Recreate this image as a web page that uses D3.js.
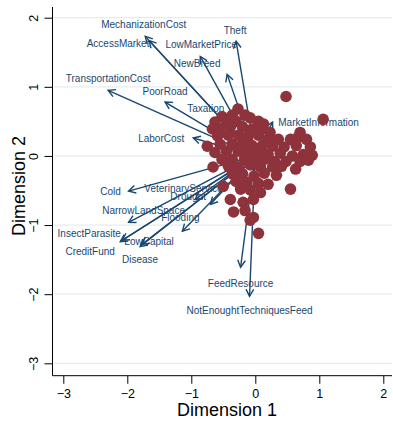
<!DOCTYPE html>
<html>
<head>
<meta charset="utf-8">
<script src="https://cdn.jsdelivr.net/npm/d3@7"></script>
<style>
  html, body { margin: 0; padding: 0; background: #fff; }
  svg { display: block; font-family: "Liberation Sans", Arial, sans-serif; }
</style>
</head>
<body>
<svg id="chart" width="393" height="423"></svg>
<script>
// Variable (column) coordinates on the two dimensions
const varNames = [
  "MechanizationCost", "AccessMarket", "LowMarketPrice", "Theft", "NewBreed",
  "TransportationCost", "PoorRoad", "Taxation", "LaborCost", "MarketInformation",
  "Cold", "VeterinaryService", "Drought", "NarrowLandSpace", "Flooding",
  "InsectParasite", "CreditFund", "LowCapital", "Disease", "FeedResource",
  "NotEnoughtTechniquesFeed"
];
const varDim1 = [-1.72, -1.66, -0.86, -0.30, -0.44, -2.30, -1.41, -0.50, -0.97, 0.27,
                 -1.98, -0.70, -0.94, -1.98, -1.14, -2.11, -2.08, -1.80, -1.77, -0.23, -0.09];
const varDim2 = [1.73, 1.67, 1.44, 1.66, 1.18, 0.95, 0.78, 0.52, 0.26, 0.49,
                 -0.51, -0.70, -0.63, -0.96, -1.09, -1.24, -1.22, -1.31, -1.28, -1.61, -2.03];

// Observation (row) scores on the two dimensions
const obsDim1 = [
  0.48, -0.27, -0.52, -0.36, -0.16, -0.08, 1.06, -0.63, -0.45, -0.30,
  0.05, 0.13, -0.67, -0.55, -0.39, -0.20, -0.05, 0.11, 0.23, 0.70,
  -0.59, -0.42, -0.27, -0.11, 0.05, 0.20, 0.36, 0.55, 0.67, 0.80,
  -0.75, -0.55, -0.36, -0.20, -0.05, 0.11, 0.27, 0.45, 0.64, 0.86,
  -0.63, -0.45, -0.27, -0.11, 0.05, 0.20, 0.39, 0.58, 0.75, 0.89,
  -0.52, -0.36, -0.17, -0.02, 0.14, 0.30, 0.48, 0.70, 0.83,
  -0.66, -0.42, -0.27, -0.08, 0.08, 0.27, 0.41, 0.63,
  -0.36, -0.20, -0.02, 0.14, 0.33, 0.55,
  -0.50, -0.30, -0.14, 0.05, 0.20,
  -0.23, -0.08, 0.08,
  -0.39, -0.19, -0.03,
  -0.34, -0.16, -0.03, -0.08, 0.05
];
const obsDim2 = [
  0.86, 0.68, 0.57, 0.59, 0.59, 0.55, 0.53, 0.49, 0.47, 0.50,
  0.50, 0.46, 0.39, 0.39, 0.42, 0.42, 0.39, 0.39, 0.34, 0.34,
  0.29, 0.30, 0.30, 0.29, 0.30, 0.24, 0.24, 0.24, 0.27, 0.24,
  0.14, 0.17, 0.17, 0.18, 0.15, 0.15, 0.14, 0.13, 0.15, 0.13,
  0.05, 0.07, 0.07, 0.05, 0.07, 0.02, 0.04, 0.00, 0.02, 0.01,
  -0.05, -0.05, -0.05, -0.05, -0.05, -0.08, -0.08, -0.08, -0.06,
  -0.16, -0.15, -0.16, -0.13, -0.16, -0.16, -0.15, -0.19,
  -0.26, -0.26, -0.29, -0.25, -0.28, -0.48,
  -0.44, -0.37, -0.38, -0.40, -0.41,
  -0.48, -0.49, -0.53,
  -0.63, -0.67, -0.63,
  -0.81, -0.79, -0.89, -0.93, -1.12
];

const ticks = [-3, -2, -1, 0, 1, 2];
const xTitle = "Dimension 1";
const yTitle = "Dimension 2";

// Label placement around each arrow tip, in pixels
const labelOffsets = [
  [-1.5, -12], [-31, 3], [1, -12], [-1, -11], [-30, -11],
  [0, -12], [0, -11], [-17.5, -11], [-32, 1], [46, 0],
  [-18, 0], [-27, -16], [-7, -3], [15, -12], [-2, -14],
  [-31, -8], [-32, 11], [9, -5], [-2, 15], [0, 16], [0, 14]
];

const navy = "#1a476f";
const maroon = "#8e323b";

const svg = d3.select("#chart");

const x = d3.scaleLinear().domain([-3, 2]).range([63.3, 383.3]);
const y = d3.scaleLinear().domain([-3, 2]).range([363.3, 17.7]);

const plotLeft = 52.5, plotRight = 392, plotTop = 7, plotBottom = 375.7;

// Horizontal gridlines
svg.append("g")
  .selectAll("line")
  .data(ticks)
  .join("line")
  .attr("x1", plotLeft + 1).attr("x2", plotRight)
  .attr("y1", d => y(d)).attr("y2", d => y(d))
  .attr("stroke", "#e4ecf0").attr("stroke-width", 1.2);

// Y axis
const yAxis = svg.append("g")
  .attr("transform", `translate(${plotLeft},0)`)
  .call(d3.axisLeft(y).tickValues(ticks).tickSize(8).tickSizeOuter(0).tickFormat(d3.format("d")));
yAxis.select(".domain").attr("d", `M0,${plotTop}V${plotBottom}`).attr("stroke", "#000");
yAxis.selectAll(".tick line").attr("stroke", "#000");
yAxis.selectAll(".tick text")
  .attr("x", null).attr("dy", null)
  .attr("text-anchor", "middle")
  .attr("transform", "translate(-15,0) rotate(-90)")
  .attr("font-size", 12.5).attr("fill", "#000")
  .style("font-family", "'Liberation Sans', Arial, sans-serif");

// X axis
const xAxis = svg.append("g")
  .attr("transform", `translate(0,${plotBottom})`)
  .call(d3.axisBottom(x).tickValues(ticks).tickSize(8).tickSizeOuter(0).tickFormat(d3.format("d")));
xAxis.select(".domain").attr("d", `M${plotLeft},0H${plotRight}`).attr("stroke", "#000");
xAxis.selectAll(".tick line").attr("stroke", "#000");
xAxis.selectAll(".tick text")
  .attr("y", 22).attr("dy", null)
  .attr("font-size", 12.5).attr("fill", "#000")
  .style("font-family", "'Liberation Sans', Arial, sans-serif");

// Axis titles
svg.append("text")
  .attr("x", 227).attr("y", 416)
  .attr("text-anchor", "middle")
  .attr("font-size", 18).attr("fill", "#000")
  .text(xTitle);
svg.append("text")
  .attr("transform", "translate(25,186) rotate(-90)")
  .attr("text-anchor", "middle")
  .attr("font-size", 18).attr("fill", "#000")
  .text(yTitle);

// Variable arrows from the origin
const vars = varNames.map((name, i) => ({ name, d1: varDim1[i], d2: varDim2[i], off: labelOffsets[i] }));
const arrows = svg.append("g");
const headLen = 8, headAngle = 0.5;
vars.forEach(v => {
  const x0 = x(0), y0 = y(0), x1 = x(v.d1), y1 = y(v.d2);
  const ang = Math.atan2(y1 - y0, x1 - x0);
  arrows.append("line")
    .attr("x1", x0).attr("y1", y0).attr("x2", x1).attr("y2", y1)
    .attr("stroke", navy).attr("stroke-width", 1.4);
  const b1 = [x1 - headLen * Math.cos(ang - headAngle), y1 - headLen * Math.sin(ang - headAngle)];
  const b2 = [x1 - headLen * Math.cos(ang + headAngle), y1 - headLen * Math.sin(ang + headAngle)];
  arrows.append("path")
    .attr("d", `M${b1[0]},${b1[1]}L${x1},${y1}L${b2[0]},${b2[1]}`)
    .attr("fill", "none").attr("stroke", navy).attr("stroke-width", 1.4);
  arrows.append("text")
    .attr("x", x1 + v.off[0]).attr("y", y1 + v.off[1])
    .attr("dy", "0.35em")
    .attr("text-anchor", "middle")
    .attr("font-size", 10).attr("fill", navy)
    .text(v.name);
});

// Observation markers
const obs = obsDim1.map((d, i) => ({ d1: d, d2: obsDim2[i] }));
svg.append("g")
  .selectAll("circle")
  .data(obs)
  .join("circle")
  .attr("cx", d => x(d.d1)).attr("cy", d => y(d.d2))
  .attr("r", 5.8)
  .attr("fill", maroon);
</script>
</body>
</html>
